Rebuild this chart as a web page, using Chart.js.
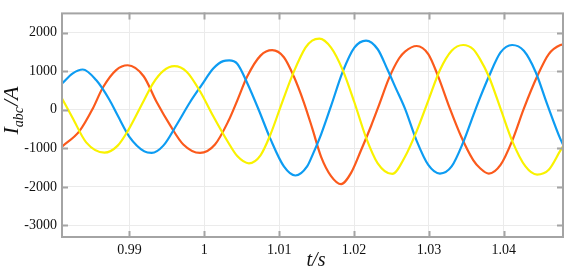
<!DOCTYPE html>
<html>
<head>
<meta charset="utf-8">
<script src="https://cdn.jsdelivr.net/npm/chart.js@4.4.1/dist/chart.umd.min.js"></script>
<style>
body { margin: 0; background: #fff; }
#wrap { width: 566px; height: 271px; }
</style>
</head>
<body>
<div id="wrap"><canvas id="currents" width="566" height="271"></canvas></div>
<script>
// phase currents (t in s, I in A)
var blueT = [0.981, 0.98244, 0.98377, 0.98556, 0.98733, 0.98844, 0.99, 0.992, 0.99297, 0.99453, 0.99631, 0.99809, 0.99964, 1.0012, 1.00253, 1.00333, 1.0044, 1.00573, 1.00729, 1.00884, 1.01063, 1.01217, 1.01373, 1.01453, 1.0156, 1.01693, 1.01849, 1.02004, 1.0216, 1.02316, 1.02449, 1.0256, 1.0268, 1.02836, 1.02991, 1.03147, 1.03303, 1.03457, 1.03591, 1.0368, 1.038, 1.03956, 1.04111, 1.04267, 1.04423, 1.04577, 1.04756, 1.0479];
var blueI = [680, 945, 1045, 770, 260, -150, -700, -1080, -1120, -930, -388, 195, 640, 1070, 1262, 1280, 1195, 695, -12, -762, -1470, -1705, -1470, -1138, -638, 100, 988, 1612, 1795, 1570, 1030, 550, 30, -805, -1430, -1655, -1470, -845, -150, 300, 862, 1488, 1680, 1530, 988, 155, -762, -900];

var orangeT = [0.981, 0.98333, 0.98511, 0.98644, 0.98823, 0.98977, 0.9919, 0.99364, 0.99543, 0.9972, 0.99943, 1.00143, 1.0032, 1.0044, 1.00573, 1.00751, 1.00907, 1.01063, 1.01196, 1.01329, 1.0144, 1.0156, 1.01693, 1.01827, 1.0196, 1.02093, 1.02227, 1.02333, 1.02467, 1.026, 1.0268, 1.02836, 1.02991, 1.03124, 1.0328, 1.03436, 1.03591, 1.0368, 1.038, 1.03956, 1.04111, 1.04267, 1.04444, 1.046, 1.04756, 1.0479];
var orangeI = [-955, -555, 30, 570, 1030, 1155, 870, 200, -400, -900, -1120, -900, -300, 238, 862, 1405, 1545, 1362, 862, 195, -470, -1220, -1720, -1930, -1638, -1050, -420, 120, 820, 1330, 1510, 1655, 1445, 862, 30, -720, -1305, -1510, -1655, -1430, -805, 30, 862, 1445, 1680, 1690];

var yellowT = [0.981, 0.98244, 0.98423, 0.98667, 0.98844, 0.98977, 0.9919, 0.9932, 0.99453, 0.996, 0.99764, 0.99943, 1.0012, 1.0032, 1.0044, 1.00596, 1.00751, 1.00884, 1.0104, 1.01196, 1.01351, 1.0144, 1.01537, 1.01693, 1.01849, 1.02004, 1.0216, 1.02316, 1.0251, 1.0268, 1.02836, 1.02991, 1.03147, 1.03303, 1.03457, 1.03591, 1.0368, 1.038, 1.03956, 1.04111, 1.04289, 1.04444, 1.046, 1.04756, 1.0479];
var yellowI = [295, -220, -845, -1112, -930, -555, 230, 700, 1010, 1130, 988, 480, -170, -850, -1200, -1388, -1180, -638, 195, 988, 1612, 1795, 1846, 1612, 1030, 195, -720, -1388, -1665, -1220, -555, 238, 1030, 1530, 1680, 1570, 1320, 862, 30, -805, -1470, -1680, -1555, -1055, -950];

var xTicks = [0.99, 1, 1.01, 1.02, 1.03, 1.04];
var xTickLabels = ['0.99', '1', '1.01', '1.02', '1.03', '1.04'];
var yTicks = [-3000, -2000, -1000, 0, 1000, 2000];

function pts(t, v) {
	return t.map(function (x, i) { return { x: x, y: v[i] }; });
}

var serif = '"Liberation Serif", "Times New Roman", serif';

// box round the plot with inward ticks, plus the axis titles
var framePlugin = {
	id: 'frame',
	afterDraw: function (chart) {
		var ctx = chart.ctx;
		var a = chart.chartArea;
		var sx = chart.scales.x, sy = chart.scales.y;
		ctx.save();
		ctx.strokeStyle = '#a4a4a4';
		ctx.lineWidth = 2;
		ctx.strokeRect(a.left, a.top, a.right - a.left, a.bottom - a.top);
		ctx.beginPath();
		xTicks.forEach(function (v) {
			var px = Math.round(sx.getPixelForValue(v)) + 0.5;
			ctx.moveTo(px, a.bottom + 1); ctx.lineTo(px, a.bottom - 6);
			ctx.moveTo(px, a.top - 1); ctx.lineTo(px, a.top + 6);
		});
		yTicks.forEach(function (v) {
			var py = Math.round(sy.getPixelForValue(v)) + 0.5;
			ctx.moveTo(a.left - 1, py); ctx.lineTo(a.left + 6, py);
			ctx.moveTo(a.right + 1, py); ctx.lineTo(a.right - 6, py);
		});
		ctx.stroke();

		ctx.fillStyle = '#111';
		ctx.textBaseline = 'alphabetic';
		// x title
		ctx.font = 'italic 20px ' + serif;
		ctx.textAlign = 'center';
		ctx.fillText('t/s', 316, 266);

		// y title I_abc/A, rotated
		ctx.translate(18, 111);
		ctx.rotate(-Math.PI / 2);
		ctx.textAlign = 'left';
		var big = 'italic 22px ' + serif, small = 'italic 14px ' + serif;
		ctx.font = big; var w1 = ctx.measureText('I').width;
		ctx.font = small; var w2 = ctx.measureText('abc').width;
		ctx.font = big; var w3 = ctx.measureText('/A').width;
		var x0 = -(w1 + w2 + w3) / 2;
		ctx.font = big; ctx.fillText('I', x0, 0);
		ctx.font = small; ctx.fillText('abc', x0 + w1, 5);
		ctx.font = big; ctx.fillText('/A', x0 + w1 + w2 + 1, 0);
		ctx.restore();
	}
};

function line(data, color) {
	return {
		data: data,
		borderColor: color,
		borderWidth: 2.2,
		pointRadius: 0,
		fill: false,
		cubicInterpolationMode: 'monotone'
	};
}

new Chart(document.getElementById('currents'), {
	type: 'line',
	data: {
		datasets: [
			line(pts(yellowT, yellowI), '#f9f200'),
			line(pts(blueT, blueI), '#0d9cf2'),
			line(pts(orangeT, orangeI), '#fb5a1c')
		]
	},
	options: {
		responsive: false,
		animation: false,
		events: [],
		layout: { padding: { left: 0, top: 4, right: 3, bottom: 0 } },
		plugins: { legend: { display: false }, tooltip: { enabled: false } },
		scales: {
			x: {
				type: 'linear',
				min: 0.981,
				max: 1.0479,
				afterFit: function (s) { s.height = 34; },
				afterBuildTicks: function (s) { s.ticks = xTicks.map(function (v) { return { value: v }; }); },
				grid: { color: '#ebebeb', lineWidth: 1, drawTicks: false },
				border: { display: false },
				ticks: {
					padding: 5,
					color: '#111',
					font: { family: serif, size: 14 },
					maxRotation: 0,
					callback: function (v) {
						var i = xTicks.indexOf(v);
						return i >= 0 ? xTickLabels[i] : '';
					}
				}
			},
			y: {
				min: -3300,
				max: 2500,
				afterFit: function (s) { s.width = 62; },
				afterBuildTicks: function (s) { s.ticks = yTicks.map(function (v) { return { value: v }; }); },
				grid: { color: '#ebebeb', lineWidth: 1, drawTicks: false },
				border: { display: false },
				ticks: {
					padding: 5,
					color: '#111',
					font: { family: serif, size: 14 },
					callback: function (v) { return String(v); }
				}
			}
		}
	},
	plugins: [framePlugin]
});
</script>
</body>
</html>
